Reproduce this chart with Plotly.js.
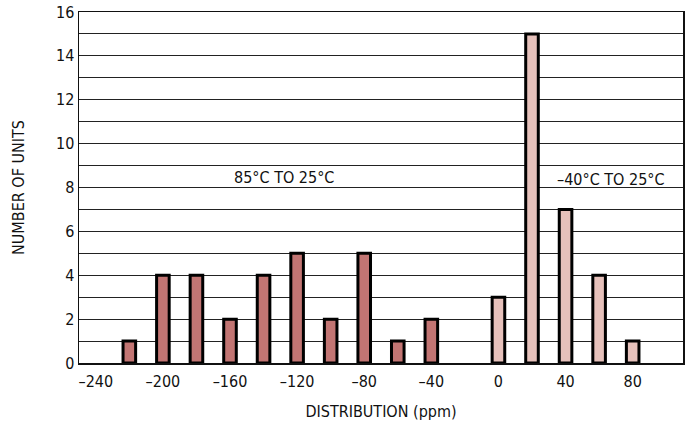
<!DOCTYPE html>
<html>
<head>
<meta charset="utf-8">
<script src="https://cdn.plot.ly/plotly-3.0.1.min.js"></script>
<style>html,body{margin:0;padding:0;background:#fff;}#chart{width:691px;height:426px;}</style>
</head>
<body>
<div id="chart"></div>
<script>
var hotX = [-220, -200, -180, -160, -140, -120, -100, -80, -60, -40];
var hotY = [1, 4, 4, 2, 4, 5, 2, 5, 1, 2];
var coldX = [0, 20, 40, 60, 80];
var coldY = [3, 15, 7, 4, 1];
var xTickVals = [-240, -200, -160, -120, -80, -40, 0, 40, 80];
var xTickText = ['\u2013240', '\u2013200', '\u2013160', '\u2013120', '\u201380', '\u201340', '0', '40', '80'];
var yTickVals = [0, 2, 4, 6, 8, 10, 12, 14, 16];
var hotLabel = '85\u00B0C TO 25\u00B0C';
var coldLabel = '\u201340\u00B0C TO 25\u00B0C';

var FONT = '"DejaVu Sans Condensed", "Liberation Sans Narrow", Arial, sans-serif';
var FS = 16;

var traces = [
  {type: 'bar', x: hotX, y: hotY, width: 7.5,
   marker: {color: '#c27573', line: {color: '#000', width: 3}}, showlegend: false, hoverinfo: 'none'},
  {type: 'bar', x: coldX, y: coldY, width: 7.5,
   marker: {color: '#e6c1bb', line: {color: '#000', width: 3}}, showlegend: false, hoverinfo: 'none'}
];

var layout = {
  width: 691, height: 426,
  margin: {l: 79, r: 8, t: 12, b: 63},
  paper_bgcolor: '#fff', plot_bgcolor: '#fff',
  font: {family: FONT, size: FS, color: '#111'},
  bargap: 0,
  xaxis: {
    range: [-250, 110], tickvals: xTickVals, ticktext: xTickText,
    showgrid: false, zeroline: false, ticks: '', ticklabelstandoff: 3,
    showline: true, linecolor: '#111', linewidth: 1.5, mirror: true,
    tickfont: {family: FONT, size: FS, color: '#111'},
    title: {text: 'DISTRIBUTION (ppm)', font: {family: FONT, size: FS, color: '#111'}, standoff: 16}
  },
  yaxis: {
    range: [0, 16], tickvals: yTickVals,
    showgrid: true, gridcolor: '#222', gridwidth: 1,
    minor: {dtick: 1, showgrid: true, gridcolor: '#222', gridwidth: 1, ticks: ''},
    zeroline: false, ticks: '',
    showline: true, linecolor: '#111', linewidth: 1.5, mirror: true,
    tickfont: {family: FONT, size: FS, color: '#111'},
    title: {text: 'NUMBER OF UNITS', font: {family: FONT, size: FS, color: '#111'}, standoff: 27}
  },
  annotations: [
    {x: -128, y: 8.45, xref: 'x', yref: 'y', text: hotLabel, showarrow: false,
     font: {family: FONT, size: FS, color: '#111'}},
    {x: 67, y: 8.35, xref: 'x', yref: 'y', text: coldLabel, showarrow: false,
     font: {family: FONT, size: FS, color: '#111'}}
  ]
};

Plotly.newPlot('chart', traces, layout, {staticPlot: true, displayModeBar: false});
</script>
</body>
</html>
